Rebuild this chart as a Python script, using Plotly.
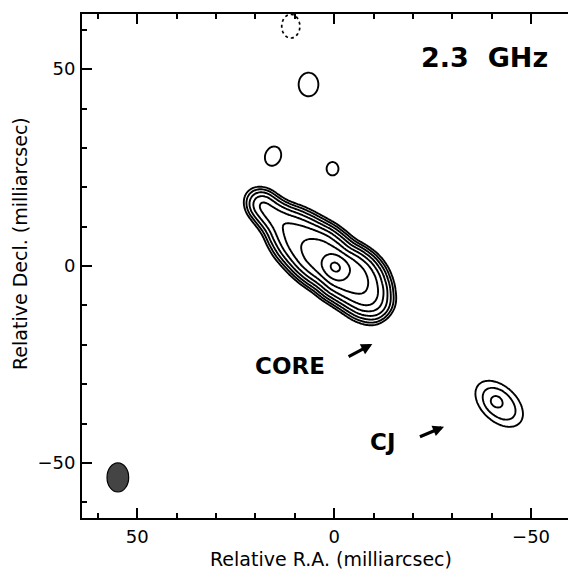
import numpy as np
import plotly.graph_objects as go

# ---------------- axes ----------------
x_range = [64.0, -61.4]          # Relative R.A. (milliarcsec), increasing to the left
y_range = [-64.0, 64.0]          # Relative Decl. (milliarcsec)
tick_values = [50, 0, -50]
tick_text = ["50", "0", "\u221250"]
minor_step = 10

# ---------------- contour levels (% of peak) : lowest * 2**k ----------------
lowest_level = 0.35
n_levels = 9

# ---------------- brightness model ----------------
jet_pa = 43.0                    # deg, jet axis direction (x east, y north)
jet_sig_s = 1.8
core_s, core_t, core_amp, core_sig_s, core_sig_t = -0.3, 0.0, 73.0, 2.0, 1.8
# jet components in (s along jet, t across jet) coordinates
jet_s     = [-15.0, -12.0, -12.0, -9.0, -9.0, -6.0, -6.0, -3.0, -3.0, 0.0, 0.0,
             3.0, 3.0, 6.0, 6.0, 9.0, 9.0, 12.0, 12.0, 15.0, 15.0, 18.0, 21.0, 24.0, 26.5]
jet_t     = [0.0, 2.0, -1.0, 3.0, -1.0, 3.2, -1.2, 2.7, -1.7, 2.2, -2.2,
             1.9, -2.5, 1.7, -2.7, 1.2, -2.8, 0.8, -2.8, 0.5, -2.5, -1.0, -1.2, -1.1, -1.1]
jet_amp   = [4.0, 7.4, 7.4, 12.4, 12.4, 17.4, 17.4, 20.5, 20.5, 12.6, 12.6,
             17.4, 17.4, 16.6, 16.6, 11.7, 11.7, 8.2, 8.2, 5.4, 5.4, 6.3, 5.0, 4.6, 0.6]
jet_sig_t = [2.4, 2.3, 2.3, 2.3, 2.3, 2.3, 2.3, 2.3, 2.3, 2.3, 2.3,
             2.3, 2.3, 2.3, 2.3, 2.3, 2.3, 2.3, 2.3, 2.2, 2.2, 2.2, 2.0, 1.9, 1.9]

# isolated features: three faint knots, CJ (extended + compact)
blob_x   = [6.5, 15.5, 0.4, -41.9, -41.0]
blob_y   = [46.1, 27.9, 24.7, -35.0, -34.3]
blob_amp = [0.65, 0.65, 0.65, 1.3, 0.5]
blob_sa  = [2.7, 2.25, 1.53, 4.4, 1.2]
blob_sb  = [2.25, 1.8, 1.35, 2.75, 1.2]
blob_pa  = [90, 110, 90, 43, 0]

# negative (dotted) feature
neg_x, neg_y, neg_amp, neg_sa, neg_sb, neg_pa = 11.0, 60.9, -0.65, 2.7, 2.07, 90

# restoring beam (filled ellipse)
beam_x, beam_y, beam_a, beam_b = 54.9, -53.7, 2.75, 3.7

# labels
freq_label = "2.3\u00a0\u00a0GHz"
freq_pos = (-38.2, 53.0)
core_label, core_label_pos = "CORE", (11.1, -25.5)
cj_label, cj_label_pos = "CJ", (-12.4, -44.6)
core_arrow_head, core_arrow_tail = (-9.7, -19.8), (-3.3, -23.2)
cj_arrow_head, cj_arrow_tail = (-27.9, -40.8), (-21.4, -43.5)
x_title = "Relative R.A. (milliarcsec)"
y_title = "Relative Decl. (milliarcsec)"

# ---------------- build the map ----------------
def gauss(X, Y, x0, y0, amp, sa, sb, pa):
    th = np.deg2rad(pa)
    dx, dy = X - x0, Y - y0
    a = dx * np.cos(th) + dy * np.sin(th)
    b = -dx * np.sin(th) + dy * np.cos(th)
    return amp * np.exp(-0.5 * ((a / sa) ** 2 + (b / sb) ** 2))

def st_to_xy(s, t):
    th = np.deg2rad(jet_pa)
    return s * np.cos(th) - t * np.sin(th), s * np.sin(th) + t * np.cos(th)

xs = np.arange(-62.0, 64.6, 0.3)
ys = np.arange(-64.5, 64.6, 0.3)
X, Y = np.meshgrid(xs, ys)
Z = np.zeros_like(X)
cx, cy = st_to_xy(core_s, core_t)
Z += gauss(X, Y, cx, cy, core_amp, core_sig_s, core_sig_t, jet_pa)
for s, t, a, st in zip(jet_s, jet_t, jet_amp, jet_sig_t):
    jx, jy = st_to_xy(s, t)
    Z += gauss(X, Y, jx, jy, a, jet_sig_s, st, jet_pa)
for bx, by, ba, bsa, bsb, bpa in zip(blob_x, blob_y, blob_amp, blob_sa, blob_sb, blob_pa):
    Z += gauss(X, Y, bx, by, ba, bsa, bsb, bpa)

pos_log = np.clip(np.log2(np.maximum(Z, 1e-9) / lowest_level), -3, 12).astype(np.float32)

nxs = np.arange(neg_x - 6, neg_x + 6.01, 0.2)
nys = np.arange(neg_y - 7, neg_y + 7.01, 0.2)
NX, NY = np.meshgrid(nxs, nys)
NZ = -gauss(NX, NY, neg_x, neg_y, neg_amp, neg_sa, neg_sb, neg_pa)
neg_log = np.clip(np.log2(np.maximum(NZ, 1e-9) / lowest_level), -3, 12).astype(np.float32)

fig = go.Figure()
fig.add_trace(go.Contour(
    x=xs, y=ys, z=pos_log, autocontour=False,
    contours=dict(start=0, end=n_levels - 1, size=1, coloring="none", showlabels=False),
    line=dict(color="black", width=1.9, smoothing=1), showscale=False, hoverinfo="skip"))
fig.add_trace(go.Contour(
    x=nxs, y=nys, z=neg_log, autocontour=False,
    contours=dict(start=0, end=0, size=1, coloring="none", showlabels=False),
    line=dict(color="black", width=1.7, dash="dot", smoothing=1), showscale=False, hoverinfo="skip"))

fig.add_shape(type="circle", xref="x", yref="y",
              x0=beam_x - beam_a, x1=beam_x + beam_a, y0=beam_y - beam_b, y1=beam_y + beam_b,
              fillcolor="#444444", line=dict(color="black", width=1.2))

font_main = "DejaVu Sans"
ann = []
ann.append(dict(x=freq_pos[0], y=freq_pos[1], xref="x", yref="y", text="<b>" + freq_label + "</b>",
                showarrow=False, font=dict(family=font_main, size=27, color="black"),
                xanchor="center", yanchor="middle"))
for txt, pos in [(core_label, core_label_pos), (cj_label, cj_label_pos)]:
    ann.append(dict(x=pos[0], y=pos[1], xref="x", yref="y", text="<b>" + txt + "</b>",
                    showarrow=False, font=dict(family=font_main, size=23, color="black"),
                    xanchor="center", yanchor="middle"))
for head, tail in [(core_arrow_head, core_arrow_tail), (cj_arrow_head, cj_arrow_tail)]:
    ann.append(dict(x=head[0], y=head[1], xref="x", yref="y", ax=tail[0], ay=tail[1],
                    axref="x", ayref="y", text="", showarrow=True, arrowhead=2,
                    arrowsize=0.7, arrowwidth=3.2, arrowcolor="black", standoff=0))
ann.append(dict(x=0.504, y=-0.081, xref="paper", yref="paper", text=x_title, showarrow=False,
                font=dict(family=font_main, size=19, color="black"), xanchor="center", yanchor="middle"))
ann.append(dict(x=-0.1255, y=0.5437, xref="paper", yref="paper", text=y_title, showarrow=False,
                textangle=-90, font=dict(family=font_main, size=19, color="black"),
                xanchor="center", yanchor="middle"))

axis_common = dict(showgrid=False, zeroline=False, showline=True, linecolor="black", linewidth=2,
                   ticks="inside", ticklen=10, tickwidth=1.5, tickcolor="black",
                   tickmode="array", tickvals=tick_values, ticktext=tick_text,
                   tickfont=dict(family=font_main, size=18, color="black"),
                   ticklabelstandoff=1, automargin=False,
                   minor=dict(ticks="inside", ticklen=5, tickwidth=1.5, tickcolor="black",
                              dtick=minor_step, tick0=0, showgrid=False))

# page body has an 8 px margin: a 568 px figure fills the 576 px window
fig.update_layout(
    width=568, height=568, paper_bgcolor="white", plot_bgcolor="white",
    margin=dict(l=74, r=0, t=6, b=58, autoexpand=False), showlegend=False,
    xaxis=dict(range=x_range, mirror="ticks", **axis_common),
    yaxis=dict(range=y_range, mirror=False, **axis_common),
    annotations=ann)

fig.write_html("out.html")
